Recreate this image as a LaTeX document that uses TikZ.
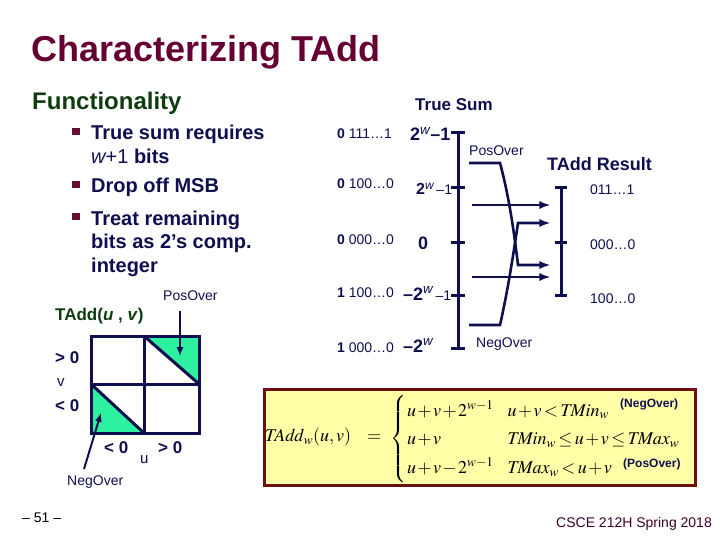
\documentclass[tikz,border=0pt]{standalone}
\usepackage{mathptmx}
\usepackage{amsmath}
\usepackage[no-math]{fontspec}
\setmainfont{Liberation Sans}
\usetikzlibrary{arrows,positioning,calc}
\definecolor{titlecolor}{RGB}{100,0,50}
\definecolor{headcolor}{RGB}{15,60,15}
\definecolor{navycolor}{RGB}{15,15,80}
\definecolor{bulletcolor}{RGB}{100,15,50}
\definecolor{overcolor}{RGB}{45,240,160}
\definecolor{boxborder}{RGB}{110,15,15}
\definecolor{boxfill}{RGB}{255,255,168}
\definecolor{footcolor}{RGB}{60,0,40}

\tikzset{
  txt/.style={anchor=base west, inner sep=0, text=navycolor},
  bigtext/.style={txt, font=\fontsize{20}{23.5}\selectfont\bfseries, align=left},
  bits/.style={txt, font=\fontsize{14}{16}\selectfont},
  small/.style={txt, font=\fontsize{14}{16}\selectfont},
  axis/.style={line width=3pt, navycolor},
  flow/.style={line width=2.6pt, navycolor, ->, >=latex},
}

\begin{document}
\begin{tikzpicture}[x=1pt,y=-1pt]
\useasboundingbox (0,0) rectangle (720,540);

% ================= TITLE =================
\node[txt, text=titlecolor, font=\fontsize{36}{40}\selectfont\bfseries] (title) at (31,62) {Characterizing TAdd};
\node[txt, text=headcolor, font=\fontsize{24}{28}\selectfont\bfseries] (func) at (32,110) {Functionality};

% bullets (base = last line)
\node[bigtext] (item1) at (91,163.5) {True sum requires\\{\mdseries\itshape w}{\mdseries +1} bits};
\node[bigtext] (item2) at (91,193) {Drop off MSB};
\node[bigtext] (item3) at (91,272) {Treat remaining\\bits as 2’s comp.\\integer};
\foreach \y in {128,181,213}
  \fill[bulletcolor] (72,\y) rectangle ++(8,7);

% ================= TRUE SUM =================
\node[txt, font=\fontsize{17}{20}\selectfont\bfseries] (truesum) at (415,111) {True Sum};

\coordinate (tstop) at (458,133);
\coordinate (tsbot) at (458,348);
\draw[axis] (tstop) -- (tsbot);
\foreach \y in {133,188,242,295,348}
  \draw[axis] (451,\y) -- (465,\y);

% bit patterns
\node[bits] (b1) at (337,139) {\textbf{0} 111…1};
\node[bits] (b2) at (337,189) {\textbf{0} 100…0};
\node[bits] (b3) at (337,244) {\textbf{0} 000…0};
\node[bits] (b4) at (337,297) {\textbf{1} 100…0};
\node[bits] (b5) at (337,352) {\textbf{1} 000…0};

% values
\node[txt, font=\fontsize{18}{20}\selectfont\bfseries] (v1) at (410,141) {2\textsuperscript{\mdseries\itshape w}–1};
\node[txt, font=\fontsize{16}{20}\selectfont\bfseries] (v2) at (416,195) {2\textsuperscript{\mdseries\itshape w}{\mdseries\fontsize{14}{16}\selectfont\,–1}};
\node[txt, font=\fontsize{18}{20}\selectfont\bfseries] (v3) at (418,249) {0};
\node[txt, font=\fontsize{18}{20}\selectfont\bfseries] (v4) at (403,300) {–2\textsuperscript{\mdseries\itshape w}{\mdseries\fontsize{14}{16}\selectfont\,–1}};
\node[txt, font=\fontsize{18}{20}\selectfont\bfseries] (v5) at (403,352) {–2\textsuperscript{\mdseries\itshape w}};

% ================= TADD RESULT =================
\node[txt, font=\fontsize{18}{20}\selectfont\bfseries] (result) at (547,171) {TAdd Result};
\coordinate (rtop) at (561,188);
\coordinate (rbot) at (561,295);
\draw[axis] (rtop) -- (rbot);
\foreach \y in {188,242,295}
  \draw[axis] (555,\y) -- (567,\y);
\node[small] (r1) at (590,195) {011…1};
\node[small] (r2) at (590,249) {000…0};
\node[small] (r3) at (590,303) {100…0};

% overflow labels
\node[small] (poslab) at (469,156) {PosOver};
\node[small] (neglab) at (476,347) {NegOver};

% flows
\coordinate (pa) at (469,163);
\coordinate (pb) at (500,163);
\coordinate (pc) at (518,265);
\coordinate (pd) at (550,265);
\coordinate (na) at (469,325);
\coordinate (nb) at (500,325);
\coordinate (nc) at (518,223);
\coordinate (nd) at (550,223);
\coordinate (sa) at (472,205);
\coordinate (sb) at (550,205);
\coordinate (ta) at (472,277);
\coordinate (tb) at (550,277);
\draw[flow] (pa) -- (pb) .. controls (510,200) and (515,240) .. (pc) -- (pd);
\draw[flow] (na) -- (nb) .. controls (508,290) and (514,250) .. (nc) -- (nd);
\draw[flow] (sa) -- (sb);
\draw[flow] (ta) -- (tb);

% ================= TADD(u,v) GRID =================
\node[txt, text=headcolor, font=\fontsize{17}{20}\selectfont\bfseries] (tuv) at (55,320) {TAdd(\textit{u} , \textit{v})};

\fill[overcolor] (144,336) -- (199,336) -- (199,384) -- cycle;
\fill[overcolor] (91,384) -- (91,433) -- (144,433) -- cycle;
\draw[axis] (91,336) rectangle (199,433);
\draw[axis] (144,336) -- (144,433);
\draw[axis] (91,384) -- (199,384);
\draw[axis] (144,336) -- (199,384);
\draw[axis] (91,384) -- (144,433);

\node[txt, font=\fontsize{17}{20}\selectfont\bfseries] (vpos) at (55,363) {> 0};
\node[txt, font=\fontsize{15}{18}\selectfont] (vlab) at (57,386) {v};
\node[txt, font=\fontsize{17}{20}\selectfont\bfseries] (vneg) at (55,411) {< 0};
\node[txt, font=\fontsize{17}{20}\selectfont\bfseries] (uneg) at (104,453) {< 0};
\node[txt, font=\fontsize{15}{18}\selectfont] (ulab) at (140,463) {u};
\node[txt, font=\fontsize{17}{20}\selectfont\bfseries] (upos) at (158,453) {> 0};

\node[small] (posq) at (163,300) {PosOver};
\node[small] (negq) at (67,485) {NegOver};
\coordinate (posin) at (180,356);
\coordinate (negin) at (101,413);
\draw[flow, line width=2pt] (180,311) -- (posin);
\draw[flow, line width=2pt] (84,469) -- (negin);

% ================= FORMULA BOX =================
\node[draw=boxborder, fill=boxfill, line width=3pt, minimum width=431, minimum height=96, inner sep=0] (fbox) at (480,437.5) {};
\node[anchor=west, inner sep=0, font=\fontsize{18}{23}\selectfont] (lhs) at (265,437)
  {$\medmuskip=2mu\thickmuskip=3mu\mathit{TAdd}_w(u,v)$\hspace{16pt}$=$};
\node[anchor=west, inner sep=0, font=\fontsize{18}{23}\selectfont] (cases) at (390,439)
  {$\medmuskip=1.5mu\thickmuskip=2.5mu\renewcommand{\arraystretch}{1.25}\left\{\begin{array}{@{\hspace{1pt}}l@{\hspace{14pt}}l@{}}
    u+v+2^{w-1} & u+v<\mathit{TMin}_w\\
    u+v & \mathit{TMin}_w\le u+v\le \mathit{TMax}_w\\
    u+v-2^{w-1} & \mathit{TMax}_w<u+v
  \end{array}\right.$};
\node[txt, text=navycolor, font=\fontsize{12}{14}\selectfont\bfseries] (negnote) at (620,407) {(NegOver)};
\node[txt, text=navycolor, font=\fontsize{12}{14}\selectfont\bfseries] (posnote) at (623,467) {(PosOver)};

% ================= FOOTER =================
\node[small, text=black] (page) at (22,522) {– 51 –};
\node[small, text=footcolor] (course) at (556,527) {CSCE 212H Spring 2018};

\end{tikzpicture}
\end{document}
